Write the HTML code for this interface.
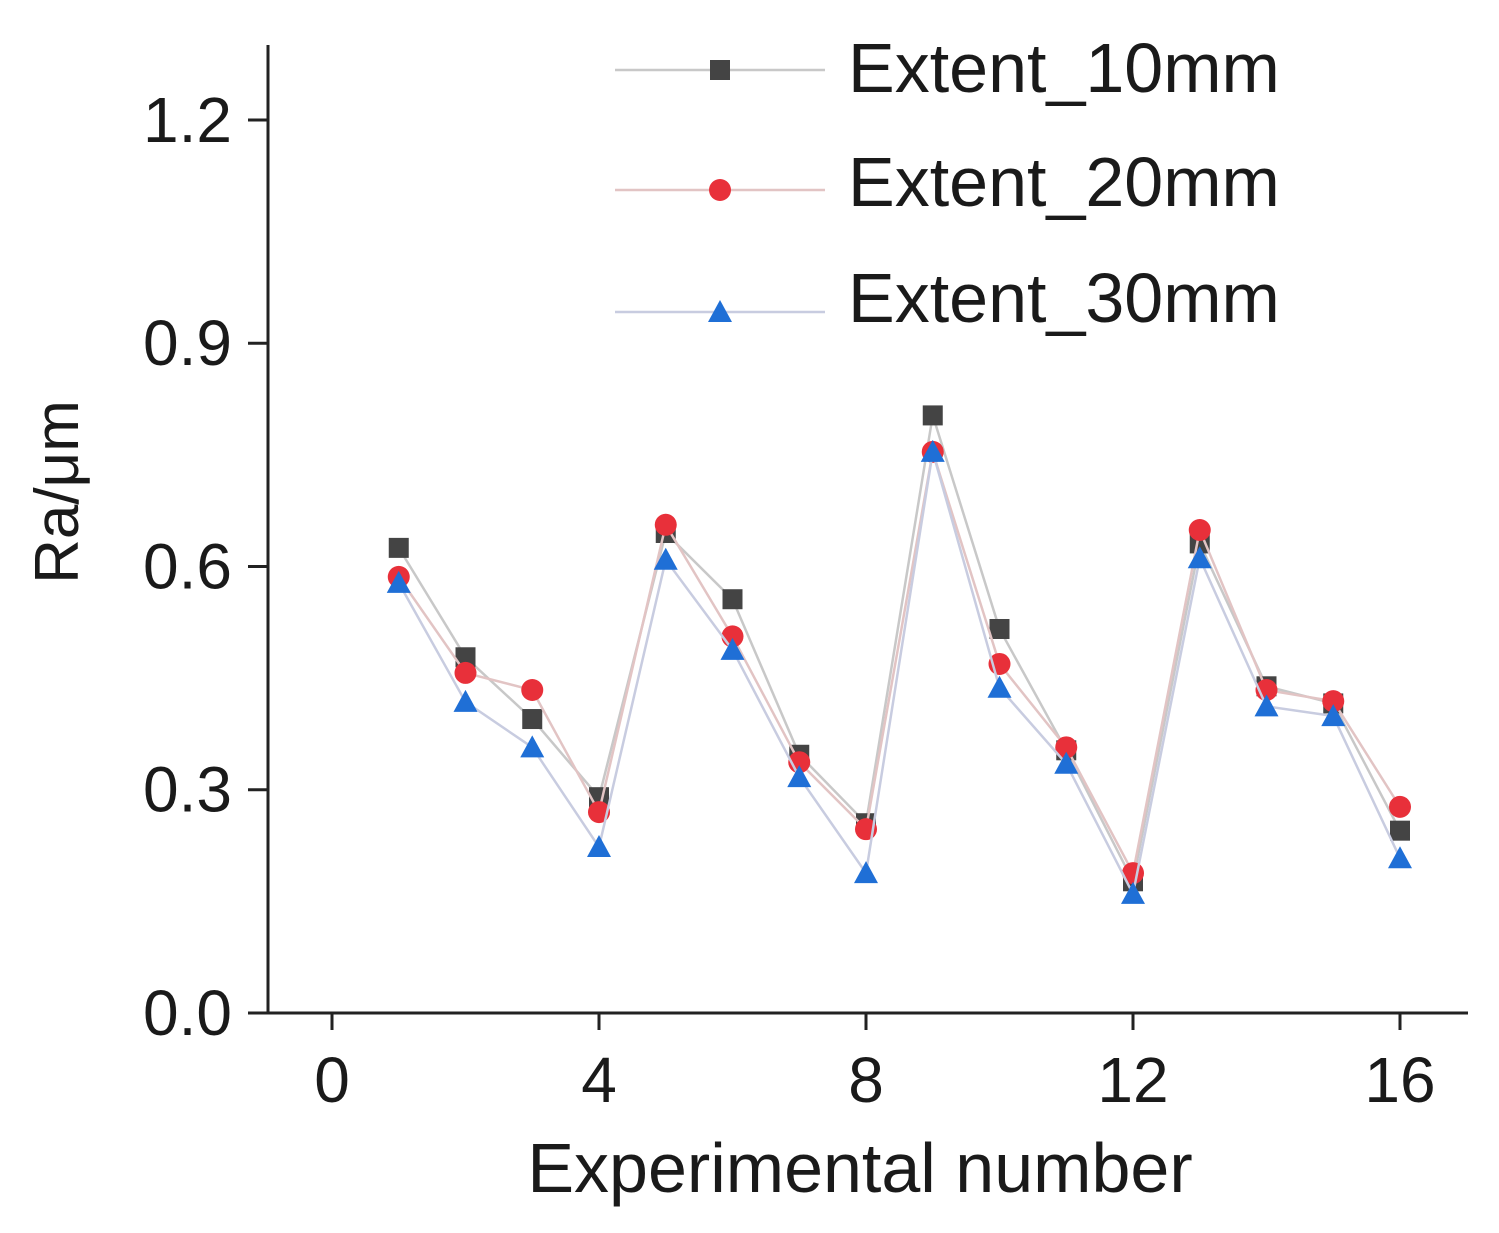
<!DOCTYPE html>
<html><head><meta charset="utf-8"><style>
html,body{margin:0;padding:0;background:#fff;}
svg{display:block;font-family:"Liberation Sans",sans-serif;}
</style></head><body>
<svg id="chart" width="1499" height="1233" viewBox="0 0 1499 1233" xmlns="http://www.w3.org/2000/svg">
<g id="axes"></g>
<g id="series"></g>
<g id="legend"></g>
</svg>
<script>
const xValues = [1,2,3,4,5,6,7,8,9,10,11,12,13,14,15,16];
const ext10 = [0.625,0.478,0.395,0.29,0.645,0.556,0.347,0.255,0.803,0.516,0.353,0.177,0.631,0.439,0.416,0.245];
const ext20 = [0.586,0.457,0.434,0.27,0.656,0.506,0.337,0.247,0.754,0.469,0.357,0.188,0.649,0.434,0.419,0.277];
const ext30 = [0.578,0.418,0.357,0.223,0.609,0.488,0.317,0.188,0.754,0.437,0.335,0.16,0.611,0.412,0.399,0.208];
const xTicks = [0,4,8,12,16];
const yTicks = [0.0,0.3,0.6,0.9,1.2];
const yTickLabels = ["0.0","0.3","0.6","0.9","1.2"];
const seriesNames = ["Extent_10mm","Extent_20mm","Extent_30mm"];

const NS="http://www.w3.org/2000/svg";
function xs(v){return 332+v*66.75;}
function ys(v){return 1013-v*744.2;}
function mk(tag,attrs,parent){const e=document.createElementNS(NS,tag);for(const k in attrs)e.setAttribute(k,attrs[k]);parent.appendChild(e);return e;}
const axes=document.getElementById('axes'),ser=document.getElementById('series'),leg=document.getElementById('legend');

let el=mk('line',{x1:268,y1:45,x2:268,y2:1013,stroke:'#222','stroke-width':3},axes);


el=mk('line',{x1:266,y1:1013,x2:1468,y2:1013,stroke:'#222','stroke-width':3},axes);


yTicks.forEach((t,i)=>{
  const y=ys(t);
  let l=mk('line',{x1:248,y1:y,x2:268,y2:y,stroke:'#222','stroke-width':3},axes);
  
  
  let tx=mk('text',{x:232,y:y+22,'text-anchor':'end','font-size':64,fill:'#1a1a1a'},axes);
  tx.textContent=yTickLabels[i];
  
  
});
xTicks.forEach(t=>{
  const x=xs(t);
  let l=mk('line',{x1:x,y1:1013,x2:x,y2:1030,stroke:'#222','stroke-width':3},axes);
  
  
  let tx=mk('text',{x:x,y:1102,'text-anchor':'middle','font-size':64,fill:'#1a1a1a'},axes);
  tx.textContent=String(t);
  
  
});
el=mk('text',{x:860,y:1192,'text-anchor':'middle','font-size':70,fill:'#1a1a1a'},axes);
el.textContent='Experimental number';


el=mk('text',{x:0,y:0,'text-anchor':'middle','font-size':62,fill:'#1a1a1a',transform:'translate(78,492) rotate(-90)'},axes);
el.textContent='Ra/μm';



const colors=['#444444','#e8303a','#1f6fd6'];
const lineColors=['#c8c8c8','#e2c4c4','#c8cce0'];
const data=[ext10,ext20,ext30];
function marker(type,x,y,color,parent){
  let m;
  if(type===0) m=mk('rect',{x:x-10,y:y-10,width:20,height:20,fill:color},parent);
  else if(type===1) m=mk('circle',{cx:x,cy:y,r:11,fill:color},parent);
  else m=mk('polygon',{points:`${x},${y-12} ${x+12},${y+10} ${x-12},${y+10}`,fill:color},parent);
  return m;
}
data.forEach((vals,si)=>{
  const g=mk('g',{},ser);
  
  
  const pts=vals.map((v,i)=>xs(xValues[i])+','+ys(v)).join(' ');
  const pl=mk('polyline',{points:pts,fill:'none',stroke:lineColors[si],'stroke-width':2.5},g);
  
  
  vals.forEach((v,i)=>{
    const m=marker(si,xs(xValues[i]),ys(v),colors[si],g);
    
    
  });
});
const legY=[70,190,312];
seriesNames.forEach((n,i)=>{
  const y=legY[i];
  const g=mk('g',{},leg);
  
  
  mk('line',{x1:615,y1:y,x2:825,y2:y,stroke:lineColors[i],'stroke-width':2.5},g);
  marker(i,720,y,colors[i],g);
  const t=mk('text',{x:848,y:y+22-(i*6),'font-size':70,fill:'#1a1a1a'},g);
  t.textContent=n;
  
  
});
</script>
</body></html>
